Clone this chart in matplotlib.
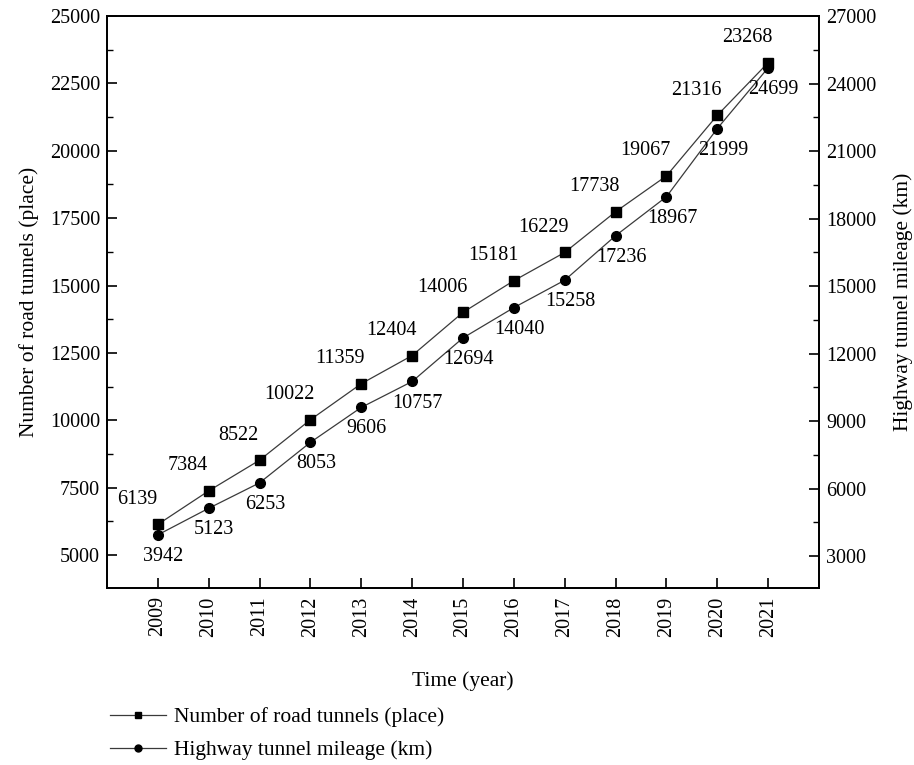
import matplotlib
matplotlib.use("Agg")
import matplotlib.pyplot as plt
from matplotlib.ticker import MultipleLocator, AutoMinorLocator
from matplotlib.lines import Line2D

years = [2009, 2010, 2011, 2012, 2013, 2014, 2015, 2016, 2017, 2018, 2019, 2020, 2021]
tunnel_count = [6139, 7384, 8522, 10022, 11359, 12404, 14006, 15181, 16229, 17738, 19067, 21316, 23268]
tunnel_mileage = [3942, 5123, 6253, 8053, 9606, 10757, 12694, 14040, 15258, 17236, 18967, 21999, 24699]

plt.rcParams["font.family"] = ["Liberation Serif", "DejaVu Serif"]
FS = 14.5
FS_LABEL = 15.5
plt.rcParams["font.size"] = FS

fig = plt.figure(figsize=(9.14, 7.65), dpi=100)
ax = fig.add_axes([107 / 914, 1 - 588 / 765, (819 - 107) / 914, (588 - 16) / 765])
ax2 = ax.twinx()

line_color = "#3a3a3a"
ax.plot(years, tunnel_count, color=line_color, lw=0.9, marker="s", ms=6.5,
        mfc="black", mec="black", zorder=3)
ax2.plot(years, tunnel_mileage, color=line_color, lw=0.9, marker="o", ms=7,
         mfc="black", mec="black", zorder=3)

# tunnel counts above-left of their markers, mileage below-right
for x, v in zip(years, tunnel_count):
    ax.annotate(f"{v}", (x, v), xytext=(-15, 18), textcoords="offset points",
                ha="center", va="center", fontsize=FS)
for x, v in zip(years, tunnel_mileage):
    ax2.annotate(f"{v}", (x, v), xytext=(4, -15.5), textcoords="offset points",
                 ha="center", va="center", fontsize=FS)

ax.set_xlim(2008, 2022)
ax.set_ylim(3780, 25000)
ax2.set_ylim(1580, 27000)

ax.set_xticks(years)
ax.set_xticklabels([str(y) for y in years], rotation=90)
ax.yaxis.set_major_locator(MultipleLocator(2500))
ax.yaxis.set_minor_locator(AutoMinorLocator(2))
ax2.set_yticks(range(3000, 27001, 3000))
ax2.yaxis.set_minor_locator(AutoMinorLocator(2))

for a in (ax, ax2):
    a.tick_params(which="major", direction="in", length=7, width=1.2, labelsize=FS, pad=5)
    a.tick_params(which="minor", direction="in", length=4, width=1.0)
    for s in a.spines.values():
        s.set_linewidth(1.3)
ax.tick_params(axis="x", which="minor", bottom=False)
ax.tick_params(axis="x", pad=6)

ax.set_xlabel("Time (year)", fontsize=FS_LABEL, labelpad=25)
ax.set_ylabel("Number of road tunnels (place)", fontsize=FS_LABEL, labelpad=8)
ax2.set_ylabel("Highway tunnel mileage (km)", fontsize=FS_LABEL, rotation=90, labelpad=12)

handles = [
    Line2D([], [], color=line_color, lw=0.9, marker="s", ms=5, mfc="black", mec="black"),
    Line2D([], [], color=line_color, lw=0.9, marker="o", ms=5, mfc="black", mec="black"),
]
fig.legend(handles, ["Number of road tunnels (place)", "Highway tunnel mileage (km)"],
           loc="upper left", bbox_to_anchor=(110 / 914, 1 - 707 / 765), frameon=False,
           fontsize=FS_LABEL, handlelength=2.6, handletextpad=0.35, labelspacing=0.6,
           borderaxespad=0, borderpad=0)

fig.savefig("out.png", dpi=100, facecolor="white")
